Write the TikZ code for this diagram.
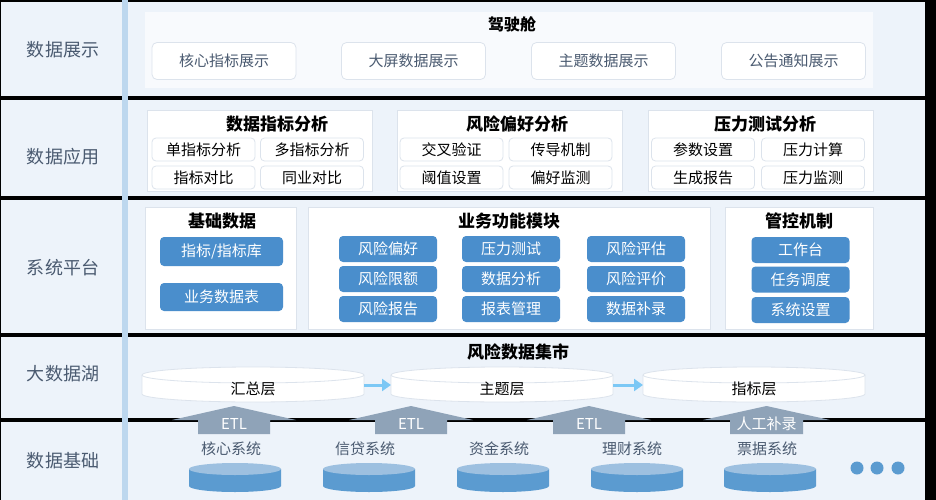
\documentclass[tikz,border=0pt]{standalone}
\usepackage{fontspec}
\setmainfont{Noto Sans CJK SC}
\usetikzlibrary{shapes.geometric,arrows.meta}
\definecolor{bandbg}{HTML}{EDF3FA}
\definecolor{stripe}{HTML}{BDD7EE}
\definecolor{lbl}{HTML}{4A5A70}
\definecolor{bord}{HTML}{DCE3EC}
\definecolor{bluebox}{HTML}{4A8ECC}
\definecolor{etl}{HTML}{8FA3B8}
\definecolor{arr}{HTML}{7CC8F5}
\definecolor{disktop}{HTML}{9DC0E0}
\definecolor{diskside}{HTML}{5B9BD0}
\tikzset{
  band/.style={fill=bandbg,draw=none},
  lefttxt/.style={text=lbl,font=\fontsize{18}{18}\selectfont},
  panel/.style={fill=white,draw=bord,line width=0.8pt},
  showbox/.style={fill=white,draw=bord,line width=0.8pt,rounded corners=5pt,minimum width=144pt,minimum height=37pt,text=lbl,font=\fontsize{15}{15}\selectfont},
  subbox/.style={fill=white,draw=bord,line width=0.8pt,rounded corners=4pt,minimum width=103pt,minimum height=23pt,font=\fontsize{15}{15}\selectfont},
  title/.style={font=\bfseries\fontsize{17}{17}\selectfont},
  bbox/.style={fill=bluebox,draw=none,rounded corners=4pt,minimum width=98pt,minimum height=26pt,text=white,font=\fontsize{15}{15}\selectfont},
  systxt/.style={text=lbl,font=\fontsize{15}{15}\selectfont},
  etltxt/.style={text=white,font=\fontsize{15}{15}\selectfont},
}
\newcommand{\cyl}[4]{% x1 x2 name text
  \fill[white,draw=bord,line width=0.8pt] (#1,-375) -- (#1,-394) arc[start angle=180,end angle=360,x radius={(#2-#1)/2},y radius=8] -- (#2,-375) arc[start angle=0,end angle=180,x radius={(#2-#1)/2},y radius=8] -- cycle;
  \draw[bord,line width=0.8pt] (#1,-375) arc[start angle=180,end angle=360,x radius={(#2-#1)/2},y radius=8];
  \node[font=\fontsize{15}{15}\selectfont] (#3) at ({(#1+#2)/2},-389) {#4};
}
\newcommand{\disk}[2]{% cx name
  \fill[diskside] (#1-46,-469) -- (#1-46,-486) arc[start angle=180,end angle=360,x radius=46,y radius=6] -- (#1+46,-469) -- cycle;
  \fill[disktop] (#1,-469) ellipse[x radius=46,y radius=6];
  \coordinate (#2) at (#1,-469);
}
\newcommand{\etlarrow}[5]{% cx shafthalf headhalf name text
  \fill[etl] (#1-#2,-434) -- (#1-#2,-420) -- (#1-#3,-420) -- (#1,-406) -- (#1+#3,-420) -- (#1+#2,-420) -- (#1+#2,-434) -- cycle;
  \node[etltxt] (#4) at (#1,-424) {#5};
}
\begin{document}
\begin{tikzpicture}[x=1pt,y=1pt]
\useasboundingbox (0,0) rectangle (936,-500);
\fill[black] (0,0) rectangle (936,-500);
% bands
\fill[band] (1,-2) rectangle (925,-96);
\fill[band] (1,-100) rectangle (925,-196);
\fill[band] (1,-200) rectangle (925,-333);
\fill[band] (1,-337) rectangle (925,-418);
\fill[band] (1,-422) rectangle (925,-500);
\fill[stripe] (122,0) rectangle (128,-500);
% left labels
\node[lefttxt] (L1) at (63,-50) {数据展示};
\node[lefttxt] (L2) at (63,-157) {数据应用};
\node[lefttxt] (L3) at (63,-268) {系统平台};
\node[lefttxt] (L4) at (63,-374) {大数据湖};
\node[lefttxt] (L5) at (63,-461) {数据基础};
% band 1
\fill[white!60!bandbg] (145,-12) rectangle (873,-88);
\node[title,font=\bfseries\fontsize{16}{16}\selectfont] (jsc) at (512,-24) {驾驶舱};
\node[showbox] (s1) at (224,-61) {核心指标展示};
\node[showbox] (s2) at (413.5,-61) {大屏数据展示};
\node[showbox] (s3) at (603.5,-61) {主题数据展示};
\node[showbox] (s4) at (793.5,-61) {公告通知展示};
% band 2
\draw[panel] (147,-110) rectangle (372,-191);
\draw[panel] (397,-110) rectangle (622,-191);
\draw[panel] (648,-110) rectangle (873,-191);
\node[title] (p1) at (277,-124) {数据指标分析};
\node[title] (p2) at (517,-124) {风险偏好分析};
\node[title] (p3) at (765,-124) {压力测试分析};
\node[subbox] (a1) at (203.5,-149.5) {单指标分析};
\node[subbox] (a2) at (312,-149.5) {多指标分析};
\node[subbox] (a3) at (203.5,-177.5) {指标对比};
\node[subbox] (a4) at (312,-177.5) {同业对比};
\node[subbox] (b1) at (451.5,-149.5) {交叉验证};
\node[subbox] (b2) at (560.5,-149.5) {传导机制};
\node[subbox] (b3) at (451.5,-177.5) {阈值设置};
\node[subbox] (b4) at (560.5,-177.5) {偏好监测};
\node[subbox] (c1) at (703,-149.5) {参数设置};
\node[subbox] (c2) at (813,-149.5) {压力计算};
\node[subbox] (c3) at (703,-177.5) {生成报告};
\node[subbox] (c4) at (813,-177.5) {压力监测};
% band 3
\draw[panel] (145,-207) rectangle (296,-329);
\draw[panel] (308,-207) rectangle (710,-329);
\draw[panel] (725,-207) rectangle (873,-329);
\node[title] (q1) at (222,-221) {基础数据};
\node[title] (q2) at (509,-221) {业务功能模块};
\node[title] (q3) at (799,-221) {管控机制};
\node[bbox,minimum width=123pt,minimum height=29pt] (d1) at (221.5,-251.5) {指标/指标库};
\node[bbox,minimum width=123pt,minimum height=28pt] (d2) at (221.5,-297) {业务数据表};
\node[bbox] (e1) at (388,-249) {风险偏好};
\node[bbox] (e2) at (511,-249) {压力测试};
\node[bbox] (e3) at (636,-249) {风险评估};
\node[bbox] (e4) at (388,-279) {风险限额};
\node[bbox] (e5) at (511,-279) {数据分析};
\node[bbox] (e6) at (636,-279) {风险评价};
\node[bbox] (e7) at (388,-309) {风险报告};
\node[bbox] (e8) at (511,-309) {报表管理};
\node[bbox] (e9) at (636,-309) {数据补录};
\node[bbox] (f1) at (800.5,-250) {工作台};
\node[bbox] (f2) at (800.5,-279.5) {任务调度};
\node[bbox] (f3) at (800.5,-310) {系统设置};
% band 4
\node[title] (mart) at (518,-352) {风险数据集市};
\cyl{142}{364}{h1}{汇总层}
\cyl{391}{613}{h2}{主题层}
\cyl{643}{865}{h3}{指标层}
\coordinate (h1r) at (364,-385);
\coordinate (h2l) at (391,-385);
\coordinate (h2r) at (613,-385);
\coordinate (h3l) at (643,-385);
\draw[arr,line width=3pt,-{Triangle[length=9pt,width=12pt]}] (h1r) -- (h2l);
\draw[arr,line width=3pt,-{Triangle[length=9pt,width=12pt]}] (h2r) -- (h3l);
% ETL arrows
\etlarrow{234}{36}{62}{t1}{ETL}
\etlarrow{411}{36}{62}{t2}{ETL}
\etlarrow{589}{36}{62}{t3}{ETL}
\etlarrow{766.5}{36.5}{63.5}{t4}{人工补录}
% band 5
\node[systxt] (y1) at (231,-449) {核心系统};
\node[systxt] (y2) at (365,-449) {信贷系统};
\node[systxt] (y3) at (499,-449) {资金系统};
\node[systxt] (y4) at (632,-449) {理财系统};
\node[systxt] (y5) at (767,-449) {票据系统};
\disk{235}{k1}
\disk{369}{k2}
\disk{503}{k3}
\disk{637}{k4}
\disk{770}{k5}
\fill[diskside] (857,-468) circle (6.5);
\fill[diskside] (877,-468) circle (6.5);
\fill[diskside] (898,-468) circle (6.5);
\end{tikzpicture}
\end{document}
